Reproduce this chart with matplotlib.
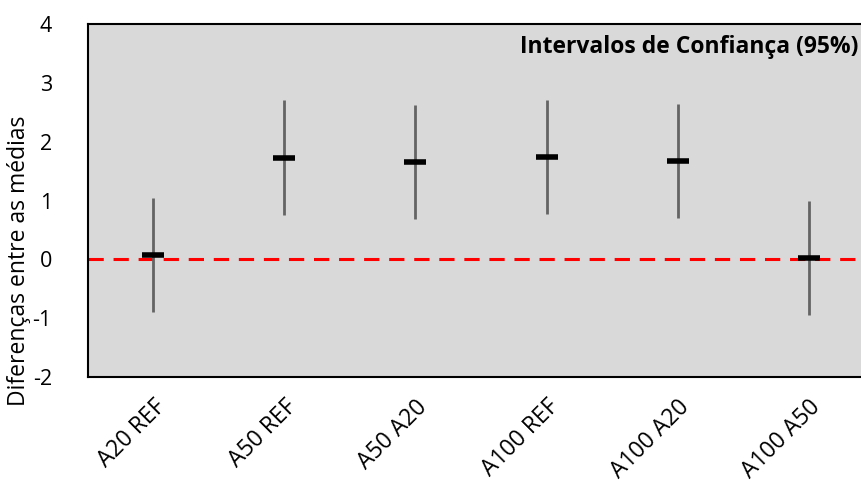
import matplotlib.pyplot as plt
import numpy as np

plt.rcParams['font.family'] = ['Open Sans', 'DejaVu Sans']
plt.rcParams['axes.unicode_minus'] = False

# comparações entre tratamentos
pares = ['A20 REF', 'A50 REF', 'A50 A20', 'A100 REF', 'A100 A20', 'A100 A50']
media = [0.08, 1.72, 1.65, 1.74, 1.67, 0.02]
limite_inf = [-0.90, 0.75, 0.68, 0.77, 0.70, -0.95]
limite_sup = [1.05, 2.71, 2.62, 2.71, 2.64, 0.99]

fig = plt.figure(figsize=(8.62, 4.91), dpi=100)
ax = fig.add_axes([0.102, 0.232, 0.912, 0.719])
ax.set_facecolor('#d9d9d9')

x = np.arange(len(pares))

# linha de referência em zero
ax.axhline(0, color='red', lw=2.2, dashes=(5, 3.2), zorder=1)

# intervalos e médias
ax.vlines(x, limite_inf, limite_sup, color='#646464', lw=2.0, zorder=2)
ax.plot(x, media, ls='none', marker='_', color='black', markersize=16, mew=4, zorder=3)

ax.set_xlim(-0.5, 5.5)
ax.set_ylim(-2, 4)
ax.set_yticks(range(-2, 5))
ax.set_xticks(x)
ax.set_xticklabels(pares, rotation=45, ha='right', rotation_mode='anchor', fontsize=16.5)
ax.tick_params(axis='x', length=0, pad=13)
ax.tick_params(axis='y', length=0, pad=26, labelsize=15.5)

for s in ax.spines.values():
    s.set_linewidth(1.5)
    s.set_color('black')

ax.set_ylabel('Diferenças entre as médias', fontsize=16.5)
ax.yaxis.set_label_coords(-0.072, 0.33)
ax.text(0.98, 0.935, 'Intervalos de Confiança (95%)', transform=ax.transAxes,
        ha='right', va='center', fontsize=16.5, fontweight='bold')

fig.savefig('out.png', dpi=100)
